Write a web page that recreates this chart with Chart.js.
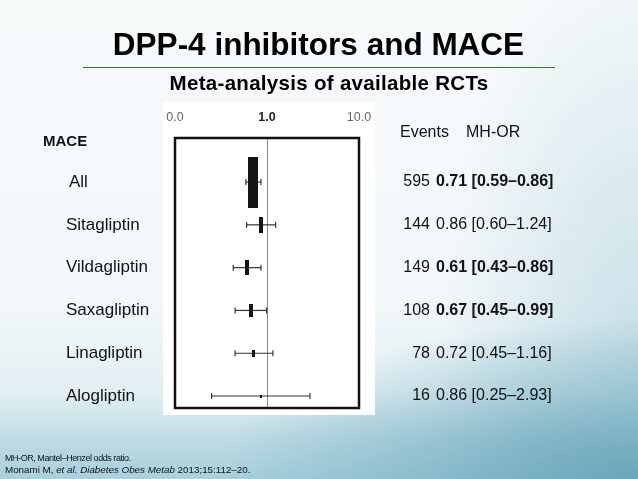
<!DOCTYPE html>
<html>
<head>
<meta charset="utf-8">
<script src="https://cdn.jsdelivr.net/npm/chart.js@4.4.1/dist/chart.umd.min.js"></script>
<style>
  html, body { margin: 0; padding: 0; }
  body {
    width: 638px; height: 479px; position: relative; overflow: hidden;
    font-family: "Liberation Sans", Arial, sans-serif;
    background:
      radial-gradient(ellipse 420px 160px at 100% 100%, rgba(95,160,180,0.85) 0%, rgba(95,160,180,0) 100%),
      radial-gradient(ellipse 200px 420px at 100% 75%, rgba(150,195,210,0.45) 0%, rgba(150,195,210,0) 100%),
      linear-gradient(180deg, #f7fafb 0%, #f3f8fa 62%, #e2eff3 82%, #bcdbe4 92%, #a9d0dc 100%);
  }
  #wrap { position: absolute; left: 0; top: 0; width: 638px; height: 479px; }
  .title { position: absolute; text-align: center; font-weight: bold; color: #000; white-space: nowrap; }
  #t1 { top: 26px; font-size: 31.5px; left: 0; width: 637px; }
  #rule { position: absolute; left: 83px; width: 472px; top: 67px; height: 0; border-top: 1px solid #357a38; }
  #t2 { top: 71px; font-size: 20.5px; letter-spacing: 0.3px; left: 0; width: 658px; }
  .foot { position: absolute; left: 5px; font-size: 9.5px; color: #111; white-space: nowrap; }
</style>
</head>
<body>
<div id="wrap"><canvas id="chart" width="638" height="479"></canvas></div>
<div class="title" id="t1">DPP-4 inhibitors and MACE</div>
<div id="rule"></div>
<div class="title" id="t2">Meta-analysis of available RCTs</div>
<div class="foot" style="top:453px; font-size:9px; letter-spacing:-0.45px;">MH-OR, Mantel–Henzel odds ratio.</div>
<div class="foot" style="top:464px; font-size:9.8px;">Monami M, <i>et al. Diabetes Obes Metab</i> 2013;15:112–20.</div>
<script>
const rows = ["All", "Sitagliptin", "Vildagliptin", "Saxagliptin", "Linagliptin", "Alogliptin"];
const events = [595, 144, 149, 108, 78, 16];
const orValues = [0.71, 0.86, 0.61, 0.67, 0.72, 0.86];
const ciLow = [0.59, 0.60, 0.43, 0.45, 0.45, 0.25];
const ciHigh = [0.86, 1.24, 0.86, 0.99, 1.16, 2.93];
const significant = [true, false, true, true, false, false];
const xTicks = [0.1, 1, 10];
const xTickLabels = ["0.0", "1.0", "10.0"];

// box sizes (px) for the weight squares
const boxW = [10, 4, 4, 4, 3, 2];
const boxH = [51, 16, 15, 13, 7, 3];

const FONT = "'Liberation Sans', Arial, sans-serif";

function makeBox(w, h) {
  const c = document.createElement("canvas");
  c.width = w; c.height = h;
  const g = c.getContext("2d");
  g.fillStyle = "#151515";
  g.fillRect(0, 0, w, h);
  return c;
}

const ciSets = rows.map((r, i) => ({
  label: r + " CI",
  data: [{ x: ciLow[i], y: i }, { x: ciHigh[i], y: i }],
  showLine: true,
  borderColor: "#333",
  borderWidth: 1.2,
  pointStyle: "line",
  rotation: 90,
  pointRadius: 3,
  pointBorderColor: "#333",
  pointBorderWidth: 1.2,
  order: 2,
}));

const boxSet = {
  label: "MH-OR",
  data: rows.map((r, i) => ({ x: orValues[i], y: i })),
  pointStyle: rows.map((r, i) => makeBox(boxW[i], boxH[i])),
  order: 0,
};

const panelPlugin = {
  id: "panel",
  beforeDraw(chart) {
    const { ctx, chartArea: a } = chart;
    ctx.save();
    ctx.fillStyle = "#ffffff";
    ctx.fillRect(a.left - 12, a.top - 36, a.right - a.left + 28, a.bottom - a.top + 43);
    ctx.restore();
  },
  afterDatasetsDraw(chart) {
    const { ctx, chartArea: a } = chart;
    ctx.save();
    ctx.strokeStyle = "#111";
    ctx.lineWidth = 2.5;
    ctx.strokeRect(a.left, a.top, a.right - a.left, a.bottom - a.top);
    ctx.restore();
  },
  afterDraw(chart) {
    const { ctx } = chart;
    const ys = chart.scales.y;
    ctx.save();
    ctx.fillStyle = "#111";
    ctx.textBaseline = "middle";
    ctx.font = "bold 15px " + FONT;
    ctx.fillText("MACE", 43, 142);
    ctx.font = "16px " + FONT;
    ctx.fillText("Events", 400, 133);
    ctx.fillText("MH-OR", 466, 133);
    rows.forEach((r, i) => {
      const py = ys.getPixelForValue(i);
      ctx.font = "17px " + FONT;
      ctx.textAlign = "left";
      ctx.fillText(r, i === 0 ? 69 : 66, py);
      ctx.font = "16px " + FONT;
      ctx.textAlign = "right";
      ctx.fillText(String(events[i]), 430, py);
      ctx.textAlign = "left";
      ctx.font = (significant[i] ? "bold " : "") + "16px " + FONT;
      const txt = orValues[i].toFixed(2) + " [" + ciLow[i].toFixed(2) + "–" + ciHigh[i].toFixed(2) + "]";
      ctx.fillText(txt, 436, py);
    });
    ctx.restore();
  },
};

new Chart(document.getElementById("chart"), {
  type: "scatter",
  data: { datasets: [boxSet, ...ciSets] },
  options: {
    responsive: false,
    animation: false,
    layout: { padding: { left: 175, right: 279, top: 97, bottom: 71 } },
    plugins: { legend: { display: false }, tooltip: { enabled: false } },
    scales: {
      x: {
        type: "logarithmic",
        position: "top",
        min: 0.1,
        max: 10,
        afterBuildTicks: (s) => { s.ticks = xTicks.map((v) => ({ value: v })); },
        ticks: {
          autoSkip: false,
          maxRotation: 0,
          padding: 13,
          callback: (v, i) => xTickLabels[i],
          color: (c) => (c.tick && c.tick.value === 1 ? "#222" : "#666"),
          font: (c) => ({ family: FONT, size: 12.5, weight: c.tick && c.tick.value === 1 ? "bold" : "normal" }),
        },
        grid: {
          drawTicks: false,
          color: (c) => (c.tick && c.tick.value === 1 ? "#8a8a8a" : "rgba(0,0,0,0)"),
          lineWidth: 1,
        },
        border: { display: false },
      },
      y: {
        type: "linear",
        reverse: true,
        min: -1.03,
        max: 5.28,
        display: false,
      },
    },
  },
  plugins: [panelPlugin],
});
</script>
</body>
</html>
